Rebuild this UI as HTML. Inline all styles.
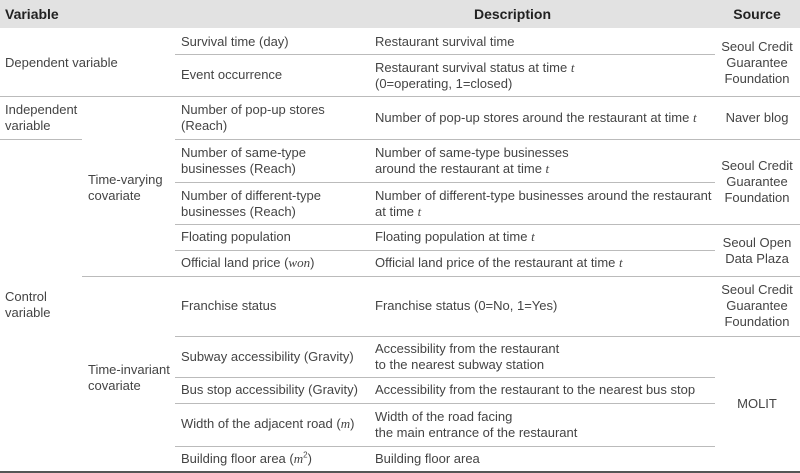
<!DOCTYPE html>
<html><head><meta charset="utf-8"><style>
html,body{margin:0;padding:0;background:#fff}
#w{position:relative;width:800px;height:473px;overflow:hidden;font-family:"Liberation Sans",Arial,sans-serif;font-size:13px;color:#444;}
.t{position:absolute;line-height:16px;white-space:nowrap}
.c{text-align:center;width:86px;left:714px}
.l{position:absolute;height:1px;background:#bbb}
.h{font-weight:bold;color:#222;font-size:14px}
i{font-family:"Liberation Serif",serif}
</style></head><body><div id="w">
<div style="position:absolute;left:0;top:0;width:800px;height:28px;background:#e2e2e2"></div>
<div class="t h" style="left:5px;top:6px">Variable</div>
<div class="t h" style="left:474px;top:6px">Description</div>
<div class="t h c" style="top:6px">Source</div>

<div class="l" style="left:175px;top:54px;width:540px"></div>
<div class="l" style="left:0;top:96px;width:800px"></div>
<div class="l" style="left:0;top:139px;width:82px"></div>
<div class="l" style="left:175px;top:139px;width:625px"></div>
<div class="l" style="left:175px;top:182px;width:540px"></div>
<div class="l" style="left:175px;top:224px;width:625px"></div>
<div class="l" style="left:175px;top:250px;width:540px"></div>
<div class="l" style="left:82px;top:276px;width:718px"></div>
<div class="l" style="left:175px;top:336px;width:625px"></div>
<div class="l" style="left:175px;top:377px;width:540px"></div>
<div class="l" style="left:175px;top:403px;width:540px"></div>
<div class="l" style="left:175px;top:446px;width:540px"></div>
<div class="l" style="left:0;top:471px;width:800px;height:2px;background:#555"></div>

<div class="t" style="left:5px;top:55px">Dependent variable</div>
<div class="t" style="left:181px;top:34px">Survival time (day)</div>
<div class="t" style="left:181px;top:67px">Event occurrence</div>
<div class="t" style="left:375px;top:34px">Restaurant survival time</div>
<div class="t" style="left:375px;top:60px">Restaurant survival status at time <i>t</i><br>(0=operating, 1=closed)</div>
<div class="t c" style="top:39px">Seoul Credit<br>Guarantee<br>Foundation</div>

<div class="t" style="left:5px;top:102px">Independent<br>variable</div>
<div class="t" style="left:181px;top:102px">Number of pop-up stores<br>(Reach)</div>
<div class="t" style="left:375px;top:110px">Number of pop-up stores around the restaurant at time <i>t</i></div>
<div class="t c" style="top:110px">Naver blog</div>

<div class="t" style="left:88px;top:172px">Time-varying<br>covariate</div>
<div class="t" style="left:181px;top:145px">Number of same-type<br>businesses (Reach)</div>
<div class="t" style="left:375px;top:145px">Number of same-type businesses<br>around the restaurant at time <i>t</i></div>
<div class="t" style="left:181px;top:188px">Number of different-type<br>businesses (Reach)</div>
<div class="t" style="left:375px;top:188px">Number of different-type businesses around the restaurant<br>at time <i>t</i></div>
<div class="t c" style="top:158px">Seoul Credit<br>Guarantee<br>Foundation</div>
<div class="t" style="left:181px;top:229px">Floating population</div>
<div class="t" style="left:375px;top:229px">Floating population at time <i>t</i></div>
<div class="t" style="left:181px;top:255px">Official land price (<i>won</i>)</div>
<div class="t" style="left:375px;top:255px">Official land price of the restaurant at time <i>t</i></div>
<div class="t c" style="top:235px">Seoul Open<br>Data Plaza</div>

<div class="t" style="left:5px;top:289px">Control<br>variable</div>
<div class="t" style="left:181px;top:298px">Franchise status</div>
<div class="t" style="left:375px;top:298px">Franchise status (0=No, 1=Yes)</div>
<div class="t c" style="top:282px">Seoul Credit<br>Guarantee<br>Foundation</div>
<div class="t" style="left:88px;top:362px">Time-invariant<br>covariate</div>
<div class="t" style="left:181px;top:349px">Subway accessibility (Gravity)</div>
<div class="t" style="left:375px;top:341px">Accessibility from the restaurant<br>to the nearest subway station</div>
<div class="t" style="left:181px;top:382px">Bus stop accessibility (Gravity)</div>
<div class="t" style="left:375px;top:382px">Accessibility from the restaurant to the nearest bus stop</div>
<div class="t" style="left:181px;top:416px">Width of the adjacent road (<i>m</i>)</div>
<div class="t" style="left:375px;top:409px">Width of the road facing<br>the main entrance of the restaurant</div>
<div class="t" style="left:181px;top:451px">Building floor area (<i>m</i><sup style="font-size:8px;line-height:0">2</sup>)</div>
<div class="t" style="left:375px;top:451px">Building floor area</div>
<div class="t c" style="top:396px">MOLIT</div>
</div></body></html>
